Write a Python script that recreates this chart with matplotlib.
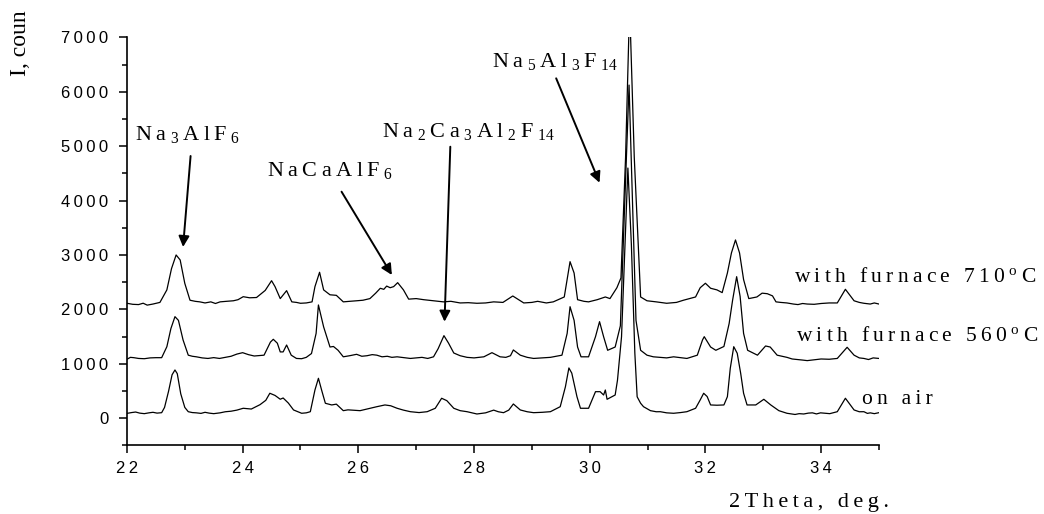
import matplotlib
matplotlib.use("Agg")
import matplotlib.pyplot as plt
from matplotlib.ticker import MultipleLocator, FuncFormatter

plt.rcParams['mathtext.fontset'] = 'custom'
plt.rcParams['mathtext.rm'] = 'Liberation Serif'
plt.rcParams['mathtext.it'] = 'Liberation Serif:italic'

# ---------------- data (2Theta, counts) ----------------
air_x = [22.00, 22.08, 22.15, 22.22, 22.30, 22.38, 22.45, 22.52, 22.60, 22.65, 22.72, 22.78, 22.83,
         22.87, 22.93, 23.00, 23.06, 23.13, 23.20, 23.28, 23.35, 23.42, 23.50, 23.61, 23.70, 23.80,
         23.90, 24.01, 24.15, 24.30, 24.40, 24.47, 24.56, 24.65, 24.70, 24.79, 24.88, 25.02, 25.10,
         25.17, 25.25, 25.31, 25.37, 25.43, 25.54, 25.62, 25.74, 25.82, 25.90, 26.03, 26.15, 26.32,
         26.46, 26.56, 26.67, 26.78, 26.90, 27.05, 27.19, 27.33, 27.44, 27.53, 27.65, 27.76, 27.88,
         28.05, 28.20, 28.34, 28.42, 28.51, 28.60, 28.68, 28.80, 28.92, 29.03, 29.18, 29.32, 29.49,
         29.58, 29.64, 29.69, 29.78, 29.84, 29.98, 30.04, 30.10, 30.18, 30.24, 30.27, 30.30, 30.44,
         30.48, 30.55, 30.61, 30.66, 30.72, 30.78, 30.82, 30.88, 30.93, 31.05, 31.15, 31.22, 31.33,
         31.45, 31.57, 31.68, 31.83, 31.91, 31.97, 32.03, 32.09, 32.20, 32.32, 32.38, 32.43, 32.49,
         32.55, 32.61, 32.66, 32.72, 32.87, 33.01, 33.13, 33.27, 33.41, 33.55, 33.62, 33.70, 33.78,
         33.85, 33.92, 33.99, 34.15, 34.28, 34.42, 34.57, 34.66, 34.74, 34.80, 34.85, 34.92, 35.00]
air_y = [90, 105, 115, 95, 85, 100, 110, 95, 103, 200, 500, 800, 888,
         820, 450, 200, 121, 105, 100, 90, 110, 95, 85, 100, 120, 130,
         150, 184, 170, 250, 330, 460, 420, 350, 373, 280, 153, 92, 100,
         121, 520, 735, 500, 276, 245, 260, 140, 155, 150, 140, 170, 213,
         245, 230, 184, 150, 121, 105, 121, 184, 368, 324, 184, 140, 121,
         79, 100, 150, 120, 103, 150, 263, 153, 120, 103, 110, 121, 213,
         580, 925, 830, 395, 184, 184, 337, 489, 489, 428, 520, 349, 428,
         700, 1500, 3200, 4600, 3200, 1200, 395, 276, 213, 140, 120, 121, 100,
         92, 105, 121, 184, 337, 460, 400, 245, 240, 245, 397, 920, 1316,
         1195, 825, 460, 245, 245, 349, 245, 140, 92, 70, 85, 79, 95,
         100, 80, 100, 85, 121, 368, 153, 120, 121, 90, 100, 85, 103]

f560_x = [22.00, 22.06, 22.12, 22.20, 22.30, 22.40, 22.50, 22.60, 22.69, 22.76, 22.83, 22.89, 22.97,
          23.06, 23.13, 23.20, 23.30, 23.40, 23.50, 23.60, 23.70, 23.80, 23.90, 24.00, 24.10, 24.20,
          24.37, 24.48, 24.53, 24.60, 24.65, 24.70, 24.76, 24.84, 24.93, 25.02, 25.10, 25.19, 25.27,
          25.31, 25.40, 25.51, 25.57, 25.65, 25.74, 25.85, 25.97, 26.06, 26.15, 26.24, 26.32, 26.41,
          26.50, 26.58, 26.67, 26.78, 26.90, 27.00, 27.10, 27.20, 27.30, 27.38, 27.48, 27.56, 27.65,
          27.76, 27.88, 28.00, 28.17, 28.31, 28.45, 28.55, 28.63, 28.68, 28.80, 28.92, 29.03, 29.18,
          29.32, 29.52, 29.61, 29.66, 29.73, 29.79, 29.85, 29.98, 30.10, 30.17, 30.24, 30.31, 30.44,
          30.53, 30.60, 30.68, 30.75, 30.80, 30.88, 30.99, 31.10, 31.22, 31.33, 31.45, 31.57, 31.68,
          31.86, 31.95, 31.98, 32.09, 32.18, 32.32, 32.41, 32.47, 32.54, 32.60, 32.66, 32.73, 32.90,
          33.04, 33.12, 33.24, 33.41, 33.50, 33.60, 33.68, 33.76, 33.88, 34.00, 34.14, 34.28, 34.45,
          34.57, 34.66, 34.74, 34.82, 34.90, 35.00]
f560_y = [1085, 1120, 1114, 1100, 1095, 1110, 1114, 1114, 1316, 1650, 1868, 1800, 1440,
          1160, 1140, 1130, 1110, 1100, 1115, 1100, 1120, 1140, 1180, 1206, 1170, 1145,
          1160, 1400, 1452, 1380, 1220, 1220, 1347, 1160, 1100, 1095, 1120, 1190, 1560,
          2083, 1680, 1310, 1320, 1250, 1130, 1150, 1176, 1140, 1150, 1170, 1160, 1130,
          1140, 1120, 1130, 1115, 1100, 1110, 1120, 1100, 1130, 1280, 1519, 1380, 1200,
          1150, 1120, 1110, 1130, 1206, 1130, 1120, 1150, 1256, 1160, 1120, 1100, 1110,
          1120, 1160, 1560, 2051, 1800, 1310, 1130, 1130, 1500, 1776, 1500, 1250, 1310,
          1700, 3800, 6125, 3600, 1800, 1250, 1160, 1130, 1120, 1110, 1130, 1115, 1100,
          1160, 1440, 1500, 1310, 1250, 1320, 1740, 2170, 2603, 2240, 1560, 1250, 1160,
          1329, 1310, 1160, 1120, 1090, 1080, 1070, 1060, 1075, 1090, 1085, 1100, 1305,
          1160, 1110, 1100, 1080, 1110, 1100]

f710_x = [22.00, 22.10, 22.20, 22.28, 22.35, 22.45, 22.57, 22.69, 22.77, 22.85, 22.92, 23.00, 23.09,
          23.18, 23.26, 23.35, 23.45, 23.53, 23.61, 23.72, 23.84, 23.92, 24.01, 24.12, 24.24, 24.39,
          24.50, 24.56, 24.65, 24.76, 24.85, 24.93, 25.00, 25.10, 25.20, 25.25, 25.33, 25.40, 25.51,
          25.62, 25.74, 25.85, 25.97, 26.08, 26.20, 26.30, 26.38, 26.44, 26.49, 26.55, 26.61, 26.68,
          26.78, 26.87, 27.00, 27.13, 27.30, 27.47, 27.60, 27.76, 27.90, 28.05, 28.20, 28.34, 28.50,
          28.67, 28.86, 29.00, 29.10, 29.25, 29.37, 29.56, 29.66, 29.73, 29.79, 29.90, 29.98, 30.13,
          30.27, 30.35, 30.47, 30.54, 30.62, 30.69, 30.77, 30.88, 30.99, 31.15, 31.33, 31.50, 31.62,
          31.83, 31.91, 32.00, 32.09, 32.20, 32.29, 32.38, 32.45, 32.52, 32.59, 32.66, 32.75, 32.89,
          32.98, 33.07, 33.16, 33.22, 33.30, 33.41, 33.52, 33.60, 33.68, 33.76, 33.88, 34.00, 34.14,
          34.28, 34.42, 34.57, 34.66, 34.74, 34.85, 34.92, 35.00]
f710_y = [2114, 2095, 2090, 2115, 2080, 2100, 2130, 2360, 2750, 3002, 2910, 2480, 2170,
          2150, 2140, 2120, 2140, 2110, 2140, 2150, 2160, 2180, 2235, 2215, 2220, 2350,
          2529, 2420, 2200, 2346, 2140, 2130, 2114, 2120, 2140, 2420, 2684, 2360, 2270,
          2260, 2140, 2150, 2160, 2170, 2200, 2300, 2390, 2370, 2430, 2400, 2420, 2493,
          2360, 2190, 2200, 2180, 2160, 2140, 2150, 2120, 2125, 2114, 2120, 2140, 2130,
          2248, 2120, 2130, 2150, 2120, 2140, 2230, 2879, 2670, 2180, 2150, 2140, 2180,
          2230, 2200, 2400, 2580, 4800, 7600, 4800, 2230, 2160, 2140, 2114, 2130, 2170,
          2230, 2400, 2482, 2390, 2360, 2310, 2670, 3040, 3278, 3040, 2550, 2200, 2230,
          2300, 2290, 2250, 2140, 2130, 2120, 2100, 2090, 2110, 2100, 2095, 2110, 2120,
          2120, 2371, 2160, 2130, 2114, 2100, 2120, 2100]

series_names = ["on air", "with furnace 560$^{\\mathrm{o}}$C", "with furnace 710$^{\\mathrm{o}}$C"]
label_pos = [(34.71, 263), (33.56, 1426), (33.53, 2500)]

phases = ["Na$_{\\mathrm{3}}$AlF$_{\\mathrm{6}}$",
          "NaCaAlF$_{\\mathrm{6}}$",
          "Na$_{\\mathrm{2}}$Ca$_{\\mathrm{3}}$Al$_{\\mathrm{2}}$F$_{\\mathrm{14}}$",
          "Na$_{\\mathrm{5}}$Al$_{\\mathrm{3}}$F$_{\\mathrm{14}}$"]
phase_text = [(22.14, 5115), (24.42, 4453), (26.41, 5165), (28.31, 6462)]
phase_tail = [(23.10, 4821), (25.71, 4165), (27.59, 4992), (29.42, 6249)]
phase_tip = [(22.97, 3149), (26.58, 2634), (27.49, 1776), (30.17, 4330)]

x_ticks = [22, 24, 26, 28, 30, 32, 34]
y_ticks = [0, 1000, 2000, 3000, 4000, 5000, 6000, 7000]

THIN = "\u2009"


def track(s):
    parts = s.split("$")
    out = []
    for i, p in enumerate(parts):
        if i % 2 == 0:
            out.append(THIN.join(p))
        else:
            out.append("$" + p + "$")
    res = ""
    for seg in out:
        if seg == "":
            continue
        if res:
            res += THIN
        res += seg
    return res


SERIF = ['Liberation Serif', 'DejaVu Serif']
SANS = ['Liberation Sans', 'DejaVu Sans']

fig = plt.figure(figsize=(10.44, 5.14), dpi=100)
ax = fig.add_axes([0.1216, 0.1333, 0.7203, 0.7938])

for xs, ys in [(air_x, air_y), (f560_x, f560_y), (f710_x, f710_y)]:
    ax.plot(xs, ys, color='black', lw=0.9)

ax.set_xlim(22, 35)
ax.set_ylim(-500, 7000)
for sp in ['top', 'right']:
    ax.spines[sp].set_visible(False)
for sp in ['left', 'bottom']:
    ax.spines[sp].set_linewidth(1.2)

ax.set_xticks(x_ticks)
ax.set_yticks(y_ticks)
ax.xaxis.set_minor_locator(MultipleLocator(1))
ax.yaxis.set_minor_locator(MultipleLocator(500))
ax.tick_params(which='major', direction='out', length=5.5, width=1.1)
ax.tick_params(which='minor', direction='out', length=3.5, width=1.1)
ax.tick_params(axis='y', pad=8)
ax.tick_params(axis='x', pad=6)

fmt = FuncFormatter(lambda v, p: THIN.join(str(int(round(v)))))
ax.xaxis.set_major_formatter(fmt)
ax.yaxis.set_major_formatter(fmt)
for lab in ax.get_xticklabels() + ax.get_yticklabels():
    lab.set_family(SANS)
    lab.set_fontsize(12)

# curve labels
for name, (tx, ty) in zip(series_names, label_pos):
    ax.text(tx, ty, track(name), family=SERIF, fontsize=15.5, va='baseline', ha='left',
            clip_on=False)

# phase annotations
for name, (tx, ty), tail, tip in zip(phases, phase_text, phase_tail, phase_tip):
    ax.text(tx, ty, track(name), family=SERIF, fontsize=16, va='baseline', ha='left')
    ax.annotate("", xy=tip, xytext=tail,
                arrowprops=dict(arrowstyle='-|>', lw=1.4, color='black', mutation_scale=16,
                                shrinkA=0, shrinkB=0))

fig.text(729 / 1044, 1 - 507 / 514, track("2Theta, deg."), family=SERIF, fontsize=16,
         va='baseline', ha='left')
fig.text(31 / 1044, 1 - 76 / 514, "I, coun", family=SERIF, fontsize=17,
         va='bottom', ha='right', rotation=90)

fig.savefig("out.png", dpi=100)
